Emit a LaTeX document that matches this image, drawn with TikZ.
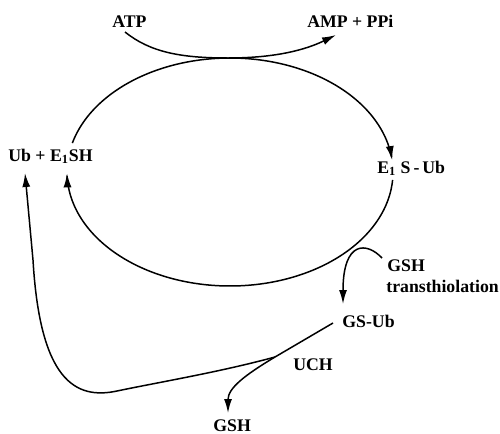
\documentclass[tikz,border=0pt]{standalone}
\usepackage{fontspec}
\setmainfont{Liberation Serif}
\usetikzlibrary{arrows.meta}
\begin{document}
\begin{tikzpicture}[x=0.02cm,y=-0.02cm,
  lbl/.style={anchor=base west,inner sep=0pt,font=\fontsize{10.1}{12}\selectfont\bfseries},
  ln/.style={line width=0.85pt},
  arr/.style={ln,-{Latex[length=2.8mm,width=1.6mm]}}]
\useasboundingbox (0,0) rectangle (500,433);
% labels
\node[lbl] (atp) at (112,27) {ATP};
\node[lbl] (amp) at (307,27) {AMP + PPi};
\node[lbl] (ub) at (8,161) {Ub + E\textsubscript{1}SH};
\node[lbl] (e1s) at (377,173) {E\textsubscript{1} S\,-\,Ub};
\node[lbl] (gsh1) at (387,271) {GSH};
\node[lbl] (trans) at (386,292) {transthiolation};
\node[lbl] (gsub) at (342,327) {GS-Ub};
\node[lbl] (uch) at (293,370) {UCH};
\node[lbl] (gsh2) at (213,431) {GSH};
% coordinates
\coordinate (a1) at (125,32);
\coordinate (a2) at (336,35);
\coordinate (g1) at (382,258);
\coordinate (g2) at (343,304);
\coordinate (u1) at (333,323);
\coordinate (u2) at (275,357);
\coordinate (u3) at (228,413);
\coordinate (r1) at (117,391);
\coordinate (r2) at (33,260);
\coordinate (r3) at (25,173);
% ellipse (two arcs)
\draw[arr] plot[domain=194.7:354,samples=80,smooth] ({230+163*cos(\x)},{172+114*sin(\x)});
\draw[arr] plot[domain=4:179.3,samples=80,smooth] ({230+163*cos(\x)},{172+114*sin(\x)});
% ATP -> AMP + PPi
\draw[arr] (a1) .. controls (150,52) and (180,58) .. (228,58) .. controls (275,58) and (305,50) .. (a2);
% GSH transthiolation
\draw[arr] (g1) .. controls (367,242) and (343,240) .. (g2);
% GS-Ub -> GSH via UCH
\draw[arr] (u1) -- (u2) .. controls (245,375) and (228,388) .. (u3);
% return to Ub
\draw[arr] (u2) .. controls (220,372) and (160,382) .. (r1) .. controls (75,400) and (40,380) .. (r2) -- (r3);
\end{tikzpicture}
\end{document}
